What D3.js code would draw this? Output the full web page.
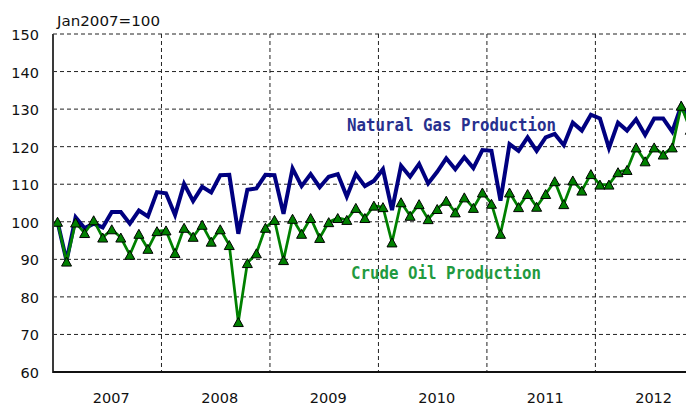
<!DOCTYPE html>
<html>
<head>
<meta charset="utf-8">
<script src="https://cdn.jsdelivr.net/npm/d3@7"></script>
<style>
    body { margin: 0; background: #fff; }
    svg { display: block; }
</style>
</head>
<body>
<script>
// monthly index, Jan2007 = 100 (Jan 2007 .. Nov 2012)
const years = ['2007', '2008', '2009', '2010', '2011', '2012']
const yTicks = [60, 70, 80, 90, 100, 110, 120, 130, 140, 150]

const gasValues = [
    100, 89.6, 101.2, 98.3, 99.5, 98.5, 102.6, 102.6, 99.5, 103, 101.4, 107.9,
    107.6, 101.8, 110.1, 105.5, 109.3, 107.8, 112.4, 112.5, 96.8, 108.5, 108.9, 112.5,
    112.4, 102.1, 114.2, 109.5, 112.7, 109.2, 112, 112.7, 106.7, 112.7, 109.5, 110.9,
    114, 103.1, 114.9, 112, 115.4, 110.2, 113.3, 116.9, 114, 117.2, 114.3, 119.1,
    118.9, 105.6, 120.7, 118.9, 122.5, 118.9, 122.5, 123.4, 120.4, 126.4, 124.3, 128.5,
    127.5, 119.6, 126.4, 124.3, 127.3, 123.1, 127.5, 127.5, 124, 130.9, 126
]

const oilValues = [
    100, 89.4, 99.8, 97, 100.4, 95.8, 98, 95.8, 91.2, 96.8, 92.8, 97.5,
    97.7, 91.7, 98.4, 96, 99.2, 94.7, 98, 93.8, 73.3, 89, 91.6, 98.4,
    100.5, 89.8, 100.8, 96.8, 101, 95.7, 99.9, 101, 100.5, 103.7, 101, 104.3,
    103.9, 94.5, 105.2, 101.6, 104.7, 100.7, 103.4, 105.6, 102.5, 106.5, 103.7, 107.8,
    104.8, 96.8, 107.8, 103.9, 107.4, 104, 107.4, 110.8, 104.7, 111, 108.3, 112.7,
    109.9, 109.9, 113.2, 113.8, 119.8, 116.1, 119.8, 117.9, 119.8, 130.9, 124.5
]

const width = 686
const height = 405
const plot = {left: 53, top: 34, bottom: 372, monthW: 9.04}
const nMonths = years.length * 12

const svg = d3.select('body')
    .append('svg')
    .attr('width', width)
    .attr('height', height)

const x = d3.scaleBand()
    .domain(d3.range(nMonths))
    .range([plot.left, plot.left + nMonths * plot.monthW])
    .padding(0)

const y = d3.scaleLinear()
    .domain([60, 150])
    .range([plot.bottom, plot.top])

const cx = i => x(i) + x.bandwidth() / 2

// horizontal dashed grid
svg.append('g')
    .selectAll('line')
    .data(yTicks.filter(v => v > 60))
    .enter()
    .append('line')
    .attr('x1', plot.left)
    .attr('x2', width)
    .attr('y1', d => y(d))
    .attr('y2', d => y(d))
    .attr('stroke', '#222')
    .attr('stroke-width', 1)
    .attr('stroke-dasharray', '4,3')

// vertical dashed lines at year boundaries
svg.append('g')
    .selectAll('line')
    .data(d3.range(1, years.length + 1))
    .enter()
    .append('line')
    .attr('x1', d => x(0) + d * 12 * plot.monthW)
    .attr('x2', d => x(0) + d * 12 * plot.monthW)
    .attr('y1', plot.top)
    .attr('y2', plot.bottom)
    .attr('stroke', '#222')
    .attr('stroke-width', 1)
    .attr('stroke-dasharray', '4,3')

// y axis labels
svg.append('g')
    .selectAll('text')
    .data(yTicks)
    .enter()
    .append('text')
    .attr('x', 39)
    .attr('y', d => y(d) + 6)
    .attr('text-anchor', 'end')
    .style('font-family', 'DejaVu Sans, sans-serif')
    .style('font-size', '14.5px')
    .attr('fill', '#111')
    .text(d => d)

svg.append('text')
    .attr('x', 57)
    .attr('y', 26)
    .attr('textLength', 103)
    .attr('lengthAdjust', 'spacingAndGlyphs')
    .style('font-family', 'DejaVu Sans, sans-serif')
    .style('font-size', '14.5px')
    .attr('fill', '#111')
    .text('Jan2007=100')

// year labels
svg.append('g')
    .selectAll('text')
    .data(years)
    .enter()
    .append('text')
    .attr('x', (d, i) => x(0) + (i * 12 + 6) * plot.monthW + 4)
    .attr('y', 403)
    .attr('text-anchor', 'middle')
    .style('font-family', 'DejaVu Sans, sans-serif')
    .style('font-size', '14.5px')
    .attr('fill', '#111')
    .text(d => d)

// series
const line = d3.line()
    .x((d, i) => cx(i))
    .y(d => y(d))

svg.append('path')
    .datum(gasValues)
    .attr('d', line)
    .attr('fill', 'none')
    .attr('stroke', '#000080')
    .attr('stroke-width', 4)
    .attr('stroke-linejoin', 'miter')

svg.append('path')
    .datum(oilValues)
    .attr('d', line)
    .attr('fill', 'none')
    .attr('stroke', '#008000')
    .attr('stroke-width', 2.75)

// triangle markers, centred on their box
const tri = 'M0,-4.5L5,4.5L-5,4.5Z'
svg.append('g')
    .selectAll('path')
    .data(oilValues)
    .enter()
    .append('path')
    .attr('d', tri)
    .attr('transform', (d, i) => `translate(${cx(i)},${y(d)})`)
    .attr('fill', '#008000')
    .attr('stroke', '#000')
    .attr('stroke-width', 1)

// axes lines
svg.append('line')
    .attr('x1', plot.left)
    .attr('x2', plot.left)
    .attr('y1', plot.top)
    .attr('y2', plot.bottom + 1)
    .attr('stroke', '#3a3a3a')
    .attr('stroke-width', 2)

svg.append('line')
    .attr('x1', plot.left)
    .attr('x2', width)
    .attr('y1', plot.bottom)
    .attr('y2', plot.bottom)
    .attr('stroke', '#111')
    .attr('stroke-width', 2)

// series labels
svg.append('text')
    .attr('x', 347)
    .attr('y', 131)
    .attr('textLength', 209)
    .attr('lengthAdjust', 'spacingAndGlyphs')
    .style('font-family', 'DejaVu Sans Mono, monospace')
    .style('font-size', '17px')
    .style('font-weight', 'bold')
    .attr('fill', '#27308e')
    .text('Natural Gas Production')

svg.append('text')
    .attr('x', 351)
    .attr('y', 279)
    .attr('textLength', 190)
    .attr('lengthAdjust', 'spacingAndGlyphs')
    .style('font-family', 'DejaVu Sans Mono, monospace')
    .style('font-size', '17px')
    .style('font-weight', 'bold')
    .attr('fill', '#1f9a40')
    .text('Crude Oil Production')
</script>
</body>
</html>
